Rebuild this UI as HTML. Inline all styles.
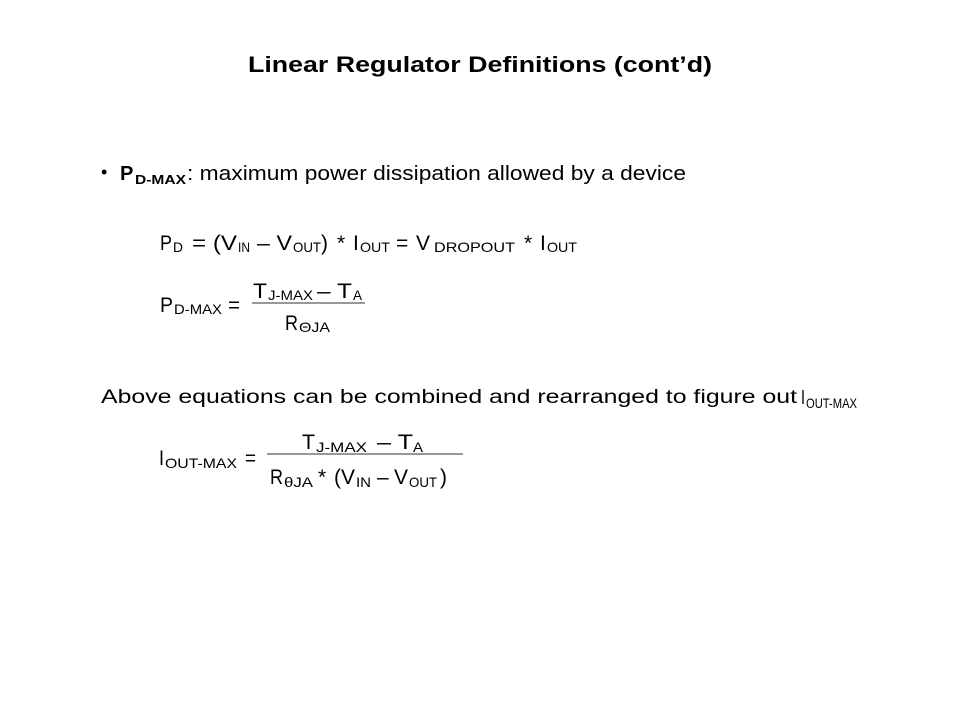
<!DOCTYPE html>
<html><head><meta charset="utf-8"><style>
html,body{margin:0;padding:0;background:#fff;}
svg{display:block;font-family:"Liberation Sans",Arial,sans-serif;}
</style></head><body>
<svg width="960" height="720" viewBox="0 0 960 720" xmlns="http://www.w3.org/2000/svg" fill="#000">
<text x="480" y="72" text-anchor="middle" font-size="22" font-weight="bold" textLength="464" lengthAdjust="spacingAndGlyphs">Linear Regulator Definitions (cont’d)</text>

<text x="101" y="178" font-size="18">•</text>
<text x="120" y="180" font-size="20" font-weight="bold">P</text>
<text x="135" y="184" font-size="13" font-weight="bold" textLength="51" lengthAdjust="spacingAndGlyphs">D-MAX</text>
<text x="187" y="180" font-size="20" textLength="499" lengthAdjust="spacingAndGlyphs">: maximum power dissipation allowed by a device</text>

<!-- Eq1 -->
<g font-size="21">
<text x="160" y="250" textLength="12" lengthAdjust="spacingAndGlyphs">P</text>
<text x="173" y="252" font-size="14" textLength="10" lengthAdjust="spacingAndGlyphs">D</text>
<text x="192" y="250" textLength="45" lengthAdjust="spacingAndGlyphs">= (V</text>
<text x="238" y="252" font-size="14" textLength="12" lengthAdjust="spacingAndGlyphs">IN</text>
<text x="257" y="250" textLength="35" lengthAdjust="spacingAndGlyphs">– V</text>
<text x="293" y="252" font-size="14" textLength="28" lengthAdjust="spacingAndGlyphs">OUT</text>
<text x="321" y="250">)</text>
<text x="337" y="250">*</text>
<text x="353" y="250">I</text>
<text x="360" y="252" font-size="14" textLength="30" lengthAdjust="spacingAndGlyphs">OUT</text>
<text x="396" y="250">=</text>
<text x="416" y="250">V</text>
<text x="434" y="252" font-size="14" textLength="81" lengthAdjust="spacingAndGlyphs">DROPOUT</text>
<text x="524" y="250">*</text>
<text x="540" y="250">I</text>
<text x="547" y="252" font-size="14" textLength="30" lengthAdjust="spacingAndGlyphs">OUT</text>
</g>

<!-- Eq2 -->
<g font-size="21">
<text x="160" y="312" textLength="13" lengthAdjust="spacingAndGlyphs">P</text>
<text x="174" y="314" font-size="14" textLength="48" lengthAdjust="spacingAndGlyphs">D-MAX</text>
<text x="228" y="312" textLength="12" lengthAdjust="spacingAndGlyphs">=</text>
<line x1="252" y1="303" x2="365" y2="303" stroke="#777" stroke-width="1.5"/>
<text x="253" y="298" textLength="14" lengthAdjust="spacingAndGlyphs">T</text>
<text x="268" y="300" font-size="14" textLength="45" lengthAdjust="spacingAndGlyphs">J-MAX</text>
<text x="317" y="298" textLength="35" lengthAdjust="spacingAndGlyphs">– T</text>
<text x="353" y="300" font-size="14" textLength="9" lengthAdjust="spacingAndGlyphs">A</text>
<text x="285" y="330" textLength="13" lengthAdjust="spacingAndGlyphs">R</text>
<text x="299" y="332" font-size="14" textLength="31" lengthAdjust="spacingAndGlyphs">ΘJA</text>
</g>

<text x="101" y="403" font-size="19" textLength="696" lengthAdjust="spacingAndGlyphs">Above equations can be combined and rearranged to figure out</text>
<text x="801" y="404" font-size="20" textLength="4" lengthAdjust="spacingAndGlyphs">I</text>
<text x="806" y="408" font-size="14" textLength="51" lengthAdjust="spacingAndGlyphs">OUT-MAX</text>

<!-- Eq4 -->
<g font-size="21">
<text x="159" y="465" textLength="5" lengthAdjust="spacingAndGlyphs">I</text>
<text x="165" y="468" font-size="14" textLength="72" lengthAdjust="spacingAndGlyphs">OUT-MAX</text>
<text x="245" y="465" textLength="11" lengthAdjust="spacingAndGlyphs">=</text>
<line x1="267" y1="454" x2="463" y2="454" stroke="#777" stroke-width="1.5"/>
<text x="302" y="449" textLength="13" lengthAdjust="spacingAndGlyphs">T</text>
<text x="316" y="452" font-size="14" textLength="51" lengthAdjust="spacingAndGlyphs">J-MAX</text>
<text x="377" y="449" textLength="36" lengthAdjust="spacingAndGlyphs">– T</text>
<text x="413" y="452" font-size="14" textLength="10" lengthAdjust="spacingAndGlyphs">A</text>
<text x="270" y="484" textLength="13" lengthAdjust="spacingAndGlyphs">R</text>
<text x="284" y="487" font-size="14" textLength="29" lengthAdjust="spacingAndGlyphs">θJA</text>
<text x="318" y="484">*</text>
<text x="334" y="484">(</text>
<text x="341" y="484">V</text>
<text x="356" y="487" font-size="14" textLength="15" lengthAdjust="spacingAndGlyphs">IN</text>
<text x="377" y="484">–</text>
<text x="394" y="484">V</text>
<text x="409" y="487" font-size="14" textLength="28" lengthAdjust="spacingAndGlyphs">OUT</text>
<text x="440" y="484">)</text>
</g>
</svg>
</body></html>
